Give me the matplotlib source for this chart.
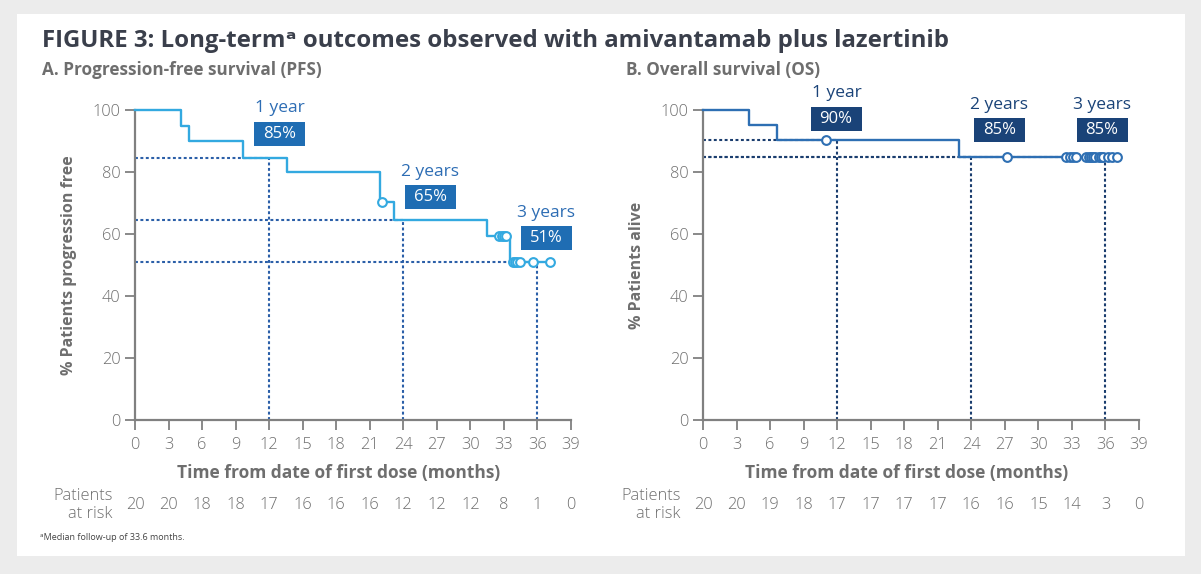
import numpy as np
import matplotlib.pyplot as plt
from matplotlib.patches import Rectangle
from matplotlib.transforms import blended_transform_factory

plt.rcParams['font.family'] = ['Open Sans', 'DejaVu Sans']

# ---- data ----
months_ticks = [0, 3, 6, 9, 12, 15, 18, 21, 24, 27, 30, 33, 36, 39]

# PFS curve (step, post)
pfs_t = [0, 4.1, 4.8, 9.7, 13.6, 21.9, 23.2, 31.5, 33.5, 37.1]
pfs_s = [100, 95, 90, 84.6, 79.9, 70.3, 64.6, 59.2, 50.9, 50.9]
pfs_cens = [22.1, 32.6, 32.8, 33.0, 33.2, 33.8, 34.0, 34.2, 34.4, 35.6, 37.1]
pfs_risk = [20, 20, 18, 18, 17, 16, 16, 16, 12, 12, 12, 8, 1, 0]
pfs_land_pct = [84.6, 64.6, 50.9]
pfs_land_txt = ['85%', '65%', '51%']

# OS curve
os_t = [0, 4.1, 6.6, 22.9, 37.1]
os_s = [100, 95.3, 90.2, 84.7, 84.7]
os_cens = [11.0, 27.2, 32.5, 32.8, 33.1, 33.4, 34.3, 34.5, 34.7, 34.9, 35.1,
           35.4, 35.6, 35.8, 36.2, 36.6, 37.0]
os_risk = [20, 20, 19, 18, 17, 17, 17, 17, 16, 16, 15, 14, 3, 0]
os_land_pct = [90.2, 84.7, 84.7]
os_land_txt = ['90%', '85%', '85%']

land_months = [12, 24, 36]
land_names = ['1 year', '2 years', '3 years']

GREY = '#6e6e6e'
SPINE = '#808080'

fig = plt.figure(figsize=(12.01, 5.74), dpi=100)
fig.patch.set_facecolor('#ececec')
fig.patches.append(Rectangle((17 / 1201, 1 - 556 / 574), (1185 - 17) / 1201, (556 - 14) / 574,
                             transform=fig.transFigure, facecolor='white', edgecolor='none', zorder=-5))

fig.text(42 / 1201, 1 - 41 / 574, 'FIGURE 3: Long-term\u1d43 outcomes observed with amivantamab plus lazertinib',
         fontsize=17.3, fontweight='bold', color='#3a3f4b', va='center', ha='left')
fig.text(42 / 1201, 1 - 70 / 574, 'A. Progression-free survival (PFS)', fontsize=12.3,
         fontweight='bold', color=GREY, va='center')
fig.text(626 / 1201, 1 - 70 / 574, 'B. Overall survival (OS)', fontsize=12.3,
         fontweight='bold', color=GREY, va='center')
fig.text(40 / 1201, 1 - 537 / 574, '\u1d43Median follow-up of 33.6 months.', fontsize=6.5,
         color='#444444', va='center')


def panel(left_px, times, surv, cens, risk, land_pct, land_txt, ylabel,
          line_c, box_c, txt_c, dot_c, label_pos, box_pos):
    ax = fig.add_axes([left_px / 1201, (574 - 420) / 574, 436 / 1201, 310 / 574])
    ax.set_facecolor('none')
    ax.set_xlim(0, 39)
    ax.set_ylim(0, 100)
    for s in ['top', 'right']:
        ax.spines[s].set_visible(False)
    for s in ['left', 'bottom']:
        ax.spines[s].set_color(SPINE)
        ax.spines[s].set_linewidth(1.6)
    ax.set_xticks(months_ticks)
    ax.set_yticks([0, 20, 40, 60, 80, 100])
    ax.tick_params(colors=SPINE, labelcolor=GREY, labelsize=11.8, length=7, width=1.3)
    ax.tick_params(axis='x', pad=5)
    for lab in ax.get_xticklabels() + ax.get_yticklabels():
        lab.set_fontweight('light')
    ax.set_ylabel(ylabel, fontsize=11.5, fontweight='bold', color=GREY)
    ax.yaxis.set_label_coords(-0.132, 0.5)
    ax.set_xlabel('Time from date of first dose (months)', fontsize=12.5, fontweight='bold',
                  color=GREY)
    ax.xaxis.set_label_coords(0.467, -0.171)
    ax.xaxis.label.set_va('center')

    # landmark dotted lines
    for m, p in zip(land_months, land_pct):
        ax.plot([0, m], [p, p], color=dot_c, lw=1.5, ls=(0, (1.4, 1.2)), zorder=2, clip_on=False)
        ax.plot([m, m], [0, p], color=dot_c, lw=1.5, ls=(0, (1.4, 1.2)), zorder=2, clip_on=False)

    ax.step(times, surv, where='post', color=line_c, lw=1.7, zorder=3, clip_on=False)
    idx = np.searchsorted(times, cens, side='right') - 1
    cy = np.array(surv)[idx]
    ax.plot(cens, cy, 'o', ms=6.3, mfc='white', mec=line_c, mew=1.5, zorder=4, clip_on=False)

    # box size: 51 x 24 px
    bw, bh = 51 / 436 * 39, 24 / 310 * 100
    for (lx, ly), (bx, by), name, t in zip(label_pos, box_pos, land_names, land_txt):
        ax.text(lx, ly, name, color=txt_c, fontsize=12.5, ha='center', va='center', clip_on=False)
        ax.add_patch(Rectangle((bx - bw / 2, by - bh / 2), bw, bh, fc=box_c, ec='none',
                               clip_on=False, zorder=5))
        ax.text(bx, by, t, color='white', fontsize=12, ha='center', va='center', clip_on=False,
                zorder=6)

    tr = blended_transform_factory(ax.transData, ax.transAxes)
    for m, r in zip(months_ticks, risk):
        ax.text(m, -0.275, str(r), transform=tr, ha='center', va='center', fontsize=11.8,
                color=GREY, fontweight='light')
    ax.text(-2.0, -0.275, 'Patients\nat risk', transform=tr, ha='right', va='center',
            fontsize=11.8, color=GREY, linespacing=1.15, fontweight='light')
    return ax


ax1 = panel(135, pfs_t, pfs_s, pfs_cens, pfs_risk, pfs_land_pct, pfs_land_txt,
            '% Patients progression free', '#33a9e0', '#1f6db3', '#2d6db4', '#2b5fa8',
            [(13.0, 100.5), (26.4, 80), (36.8, 66.8)], [(12.9, 92.1), (26.4, 72), (36.8, 58.8)])

ax2 = panel(703, os_t, os_s, os_cens, os_risk, os_land_pct, os_land_txt,
            '% Patients alive', '#2e6fb3', '#1a4378', '#1a4378', '#1a3d6e',
            [(12.0, 105.4), (26.5, 101.6), (35.7, 101.6)], [(11.9, 97.2), (26.5, 93.5), (35.7, 93.5)])

fig.savefig('out.png', dpi=100, facecolor=fig.get_facecolor())
